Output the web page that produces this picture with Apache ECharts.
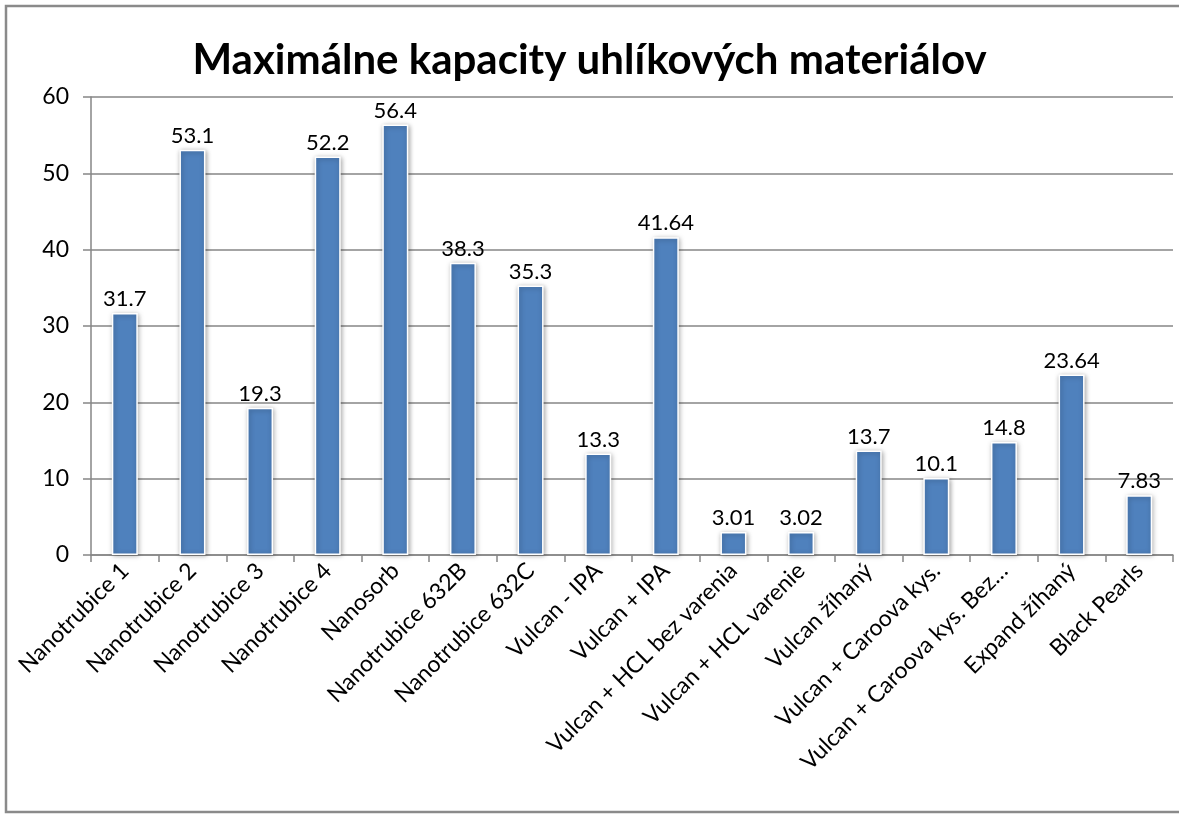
<!DOCTYPE html>
<html>
<head>
<meta charset="utf-8">
<script src="https://cdn.jsdelivr.net/npm/echarts@6/dist/echarts.min.js"></script>
<style>
  html, body { margin: 0; padding: 0; background: #fff; }
  #chart { width: 1179px; height: 814px; }
</style>
</head>
<body>
<div id="chart"></div>
<script>
// kategórie a hodnoty
const categories = [
  'Nanotrubice 1', 'Nanotrubice 2', 'Nanotrubice 3', 'Nanotrubice 4', 'Nanosorb',
  'Nanotrubice 632B', 'Nanotrubice 632C', 'Vulcan - IPA', 'Vulcan + IPA',
  'Vulcan + HCL bez varenia', 'Vulcan + HCL varenie', 'Vulcan žíhaný',
  'Vulcan + Caroova kys.', 'Vulcan + Caroova kys. Bez…', 'Expand žíhaný', 'Black Pearls'
];
const values = [31.7, 53.1, 19.3, 52.2, 56.4, 38.3, 35.3, 13.3, 41.64, 3.01, 3.02, 13.7, 10.1, 14.8, 23.64, 7.83];
const yTicks = [0, 10, 20, 30, 40, 50, 60];

const font = 'Lato, "Open Sans", sans-serif';
let chart = echarts.init(document.getElementById('chart'));

let option = {
  animation: false,
  title: {
    text: 'Maximálne kapacity uhlíkových materiálov',
    left: 'center',
    top: 34,
    textStyle: { fontFamily: font, fontWeight: 'bold', fontSize: 42, color: '#000' }
  },
  graphic: [{
    type: 'rect',
    shape: { x: 6, y: 6, width: 1200, height: 806 },
    style: { fill: 'none', stroke: '#8a8a8a', lineWidth: 2.5 },
    silent: true
  }],
  grid: { left: 91, right: 6, top: 97, bottom: 259 },
  xAxis: {
    type: 'category',
    data: categories,
    axisLine: { lineStyle: { color: '#868686', width: 1.5 } },
    axisTick: { show: true, length: 7, alignWithLabel: false, lineStyle: { color: '#868686', width: 1.5 } },
    axisLabel: {
      interval: 0, rotate: 45, margin: 12,
      fontFamily: font, fontSize: 23, color: '#000'
    }
  },
  yAxis: {
    type: 'value',
    min: yTicks[0],
    max: yTicks[yTicks.length - 1],
    interval: 10,
    axisLine: { show: true, lineStyle: { color: '#868686', width: 1.5 } },
    axisTick: { show: true, length: 8, lineStyle: { color: '#868686', width: 1.5 } },
    splitLine: { lineStyle: { color: '#868686', width: 1.5 } },
    axisLabel: { margin: 22, fontFamily: font, fontSize: 23, color: '#000' }
  },
  series: [{
    type: 'bar',
    data: values,
    barWidth: 26,
    itemStyle: {
      color: '#4F81BD',
      borderColor: '#ffffff',
      borderWidth: 1.5,
      shadowBlur: 5,
      shadowColor: 'rgba(0,0,0,0.35)',
      shadowOffsetX: 1,
      shadowOffsetY: 1
    },
    label: {
      show: true,
      position: 'top',
      distance: 3,
      fontFamily: font,
      fontSize: 22,
      color: '#000'
    }
  }]
};

chart.setOption(option);
</script>
</body>
</html>
